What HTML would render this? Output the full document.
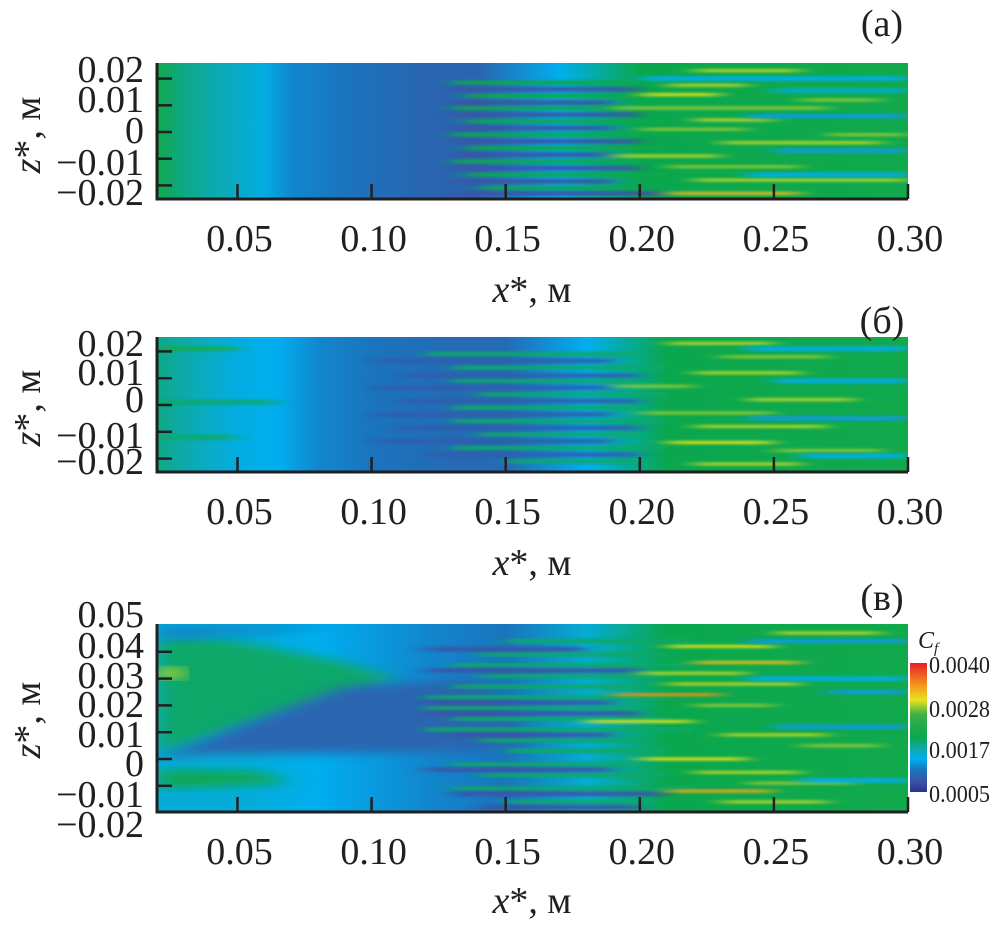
<!DOCTYPE html>
<html><head><meta charset="utf-8"><style>
html,body{margin:0;padding:0;background:#fff;width:992px;height:928px;overflow:hidden}
svg text{font-family:"Liberation Serif",serif;fill:#231f20}
</style></head><body>
<svg id="chart" xmlns="http://www.w3.org/2000/svg" width="992" height="928" viewBox="0 0 992 928">
<defs>
<filter id="blur" x="-20%" y="-300%" width="140%" height="700%"><feGaussianBlur stdDeviation="10 1.3"/></filter>
<filter id="blur2" x="-20%" y="-20%" width="140%" height="140%"><feGaussianBlur stdDeviation="12 5"/></filter>
</defs>
</svg>
<script>
// ---------- data ----------
const xTicks = [0.05, 0.10, 0.15, 0.20, 0.25, 0.30];
const xTickLabels = ["0.05", "0.10", "0.15", "0.20", "0.25", "0.30"];
const abTicks = [0.02, 0.01, 0, -0.01, -0.02];
const abTickLabels = ["0.02", "0.01", "0", "\u22120.01", "\u22120.02"];
const cTicks = [0.04, 0.03, 0.02, 0.01, 0, -0.01];
const cTickLabels = ["0.05", "0.04", "0.03", "0.02", "0.01", "0", "\u22120.01", "\u22120.02"];
const cbTickValues = [0.0040, 0.0028, 0.0017, 0.0005];
const cbTickLabels = ["0.0040", "0.0028", "0.0017", "0.0005"];
const cmapV = [0.0005, 0.0008, 0.0011, 0.0014, 0.0017, 0.0020, 0.0026, 0.0030, 0.0034, 0.0040];
const cmapC = ["#2e3192", "#3a55a5", "#1a74bd", "#00aeef", "#10a9a0", "#0aa74e", "#3cb04a", "#e8e41c", "#f7941d", "#e41e26"];

// panel (a)
const aBgX = [0.02, 0.03, 0.045, 0.06, 0.07, 0.09, 0.12, 0.14, 0.17, 0.20, 0.30];
const aBgV = [0.0021, 0.0018, 0.0016, 0.00145, 0.0012, 0.0011, 0.00095, 0.00095, 0.0014, 0.002, 0.0021];
const aStrZ  = [0.0185,0.0135,0.009,0.004,-0.001,-0.006,-0.011,-0.016,-0.021, 0.016,0.011,0.0065,0.0015,-0.0035,-0.0085,-0.0135,-0.0185,-0.023, 0.023,0.0175,0.014,0.009,0.0045,0.001,-0.004,-0.009,-0.013,-0.018,-0.023,0.012,-0.001, 0.02,0.006,-0.007,-0.016,0.0155];
const aStrX0 = [0.13,0.135,0.13,0.135,0.13,0.135,0.13,0.135,0.14, 0.13,0.13,0.13,0.13,0.13,0.13,0.13,0.13,0.13, 0.22,0.21,0.20,0.19,0.22,0.20,0.23,0.19,0.21,0.22,0.21,0.26,0.27, 0.20,0.24,0.25,0.24,0.25];
const aStrX1 = [0.20,0.21,0.20,0.21,0.20,0.21,0.20,0.21,0.20, 0.20,0.19,0.20,0.19,0.20,0.19,0.20,0.19,0.21, 0.26,0.24,0.23,0.27,0.25,0.24,0.29,0.23,0.26,0.30,0.26,0.29,0.30, 0.30,0.30,0.30,0.30,0.30];
const aStrV  = [0.002,0.002,0.002,0.002,0.002,0.002,0.002,0.002,0.002, 0.0008,0.0008,0.0008,0.0008,0.0008,0.0008,0.0008,0.0008,0.0008, 0.0029,0.0029,0.003,0.0028,0.0029,0.0028,0.0029,0.0029,0.0028,0.0029,0.0032,0.0028,0.0028, 0.0014,0.0013,0.0013,0.0014,0.0015];

// panel (б)
const bBgX = [0.02, 0.035, 0.05, 0.065, 0.08, 0.10, 0.13, 0.15, 0.18, 0.21, 0.30];
const bBgV = [0.0018, 0.0016, 0.00145, 0.0014, 0.0012, 0.0011, 0.001, 0.001, 0.0014, 0.002, 0.0021];
const bStrZ  = [0.021,-0.012,0.001, 0.019,0.014,0.009,0.004,-0.001,-0.006,-0.011,-0.016,-0.021, 0.0165,0.011,0.0065,0.0015,-0.0035,-0.0085,-0.0135,-0.0185, 0.023,0.018,0.012,0.007,0.002,-0.003,-0.008,-0.014,-0.017,-0.022, 0.021,0.009,-0.005,-0.019];
const bStrX0 = [0.02,0.02,0.02, 0.12,0.13,0.13,0.14,0.13,0.13,0.14,0.13,0.15, 0.10,0.11,0.10,0.11,0.10,0.11,0.10,0.12, 0.21,0.23,0.22,0.19,0.24,0.20,0.22,0.21,0.25,0.22, 0.24,0.25,0.24,0.26];
const bStrX1 = [0.05,0.05,0.065, 0.20,0.21,0.20,0.21,0.20,0.21,0.20,0.21,0.20, 0.19,0.20,0.19,0.20,0.19,0.20,0.19,0.20, 0.25,0.27,0.26,0.22,0.28,0.25,0.27,0.25,0.29,0.26, 0.30,0.30,0.30,0.30];
const bStrV  = [0.0021,0.0019,0.0019, 0.0019,0.0019,0.0019,0.0019,0.0019,0.0019,0.0019,0.0019,0.0019, 0.0009,0.0009,0.0009,0.0009,0.0009,0.0009,0.0009,0.0009, 0.0029,0.0028,0.0029,0.0028,0.0029,0.0028,0.0029,0.003,0.0028,0.0029, 0.0014,0.0014,0.0013,0.0014];

// panel (в)
const cBgX = [0.02, 0.05, 0.08, 0.12, 0.15, 0.18, 0.21, 0.30];
const cBgV = [0.0015, 0.0015, 0.0014, 0.0012, 0.0011, 0.0015, 0.002, 0.0021];
const cPolyX = [[0.02,0.035,0.06,0.09,0.11,0.08,0.05,0.02],[0.02,0.05,0.09,0.14,0.16,0.14,0.08,0.04],[0.02,0.06,0.07,0.02],[0.02,0.03,0.03,0.02],[0.02,0.06,0.09,0.06,0.02]];
const cPolyZ = [[0.045,0.046,0.042,0.036,0.03,0.02,0.012,0.002],[0.0,0.012,0.027,0.03,0.006,0.003,0.002,0.002],[-0.004,-0.005,-0.009,-0.011],[0.034,0.034,0.03,0.03],[0.05,0.05,0.05,0.047,0.044]];
const cPolyV = [0.0019, 0.00095, 0.002, 0.0029, 0.0012];
const cStrZ  = [0.044,0.039,0.035,0.031,0.027,0.023,0.019,0.015,0.011,0.007,0.003,-0.002,-0.006,-0.011,-0.016, 0.041,0.033,0.021,0.017,0.009,-0.004,-0.013,-0.018, 0.047,0.042,0.036,0.032,0.028,0.024,0.02,0.014,0.009,0.005,0.0,-0.005,-0.009,-0.012,-0.016, 0.044,0.03,0.012,-0.008,0.025];
const cStrX0 = [0.15,0.14,0.13,0.14,0.13,0.12,0.12,0.13,0.12,0.14,0.15,0.13,0.14,0.13,0.15, 0.12,0.12,0.12,0.12,0.13,0.12,0.13,0.14, 0.25,0.21,0.22,0.20,0.21,0.19,0.22,0.18,0.23,0.26,0.20,0.22,0.24,0.21,0.23, 0.24,0.24,0.25,0.26,0.27];
const cStrX1 = [0.22,0.21,0.22,0.21,0.20,0.21,0.20,0.21,0.22,0.20,0.21,0.20,0.21,0.22,0.20, 0.18,0.2,0.19,0.2,0.19,0.19,0.21,0.2, 0.29,0.25,0.26,0.24,0.26,0.23,0.25,0.22,0.27,0.29,0.24,0.26,0.28,0.25,0.27, 0.30,0.30,0.30,0.30,0.30];
const cStrV  = [0.0019,0.0019,0.0019,0.0019,0.0019,0.0019,0.0019,0.0019,0.0019,0.0019,0.0019,0.0019,0.0019,0.0019,0.0019, 0.0008,0.0008,0.0008,0.0008,0.0008,0.0008,0.0008,0.0008, 0.0029,0.003,0.0032,0.0029,0.0029,0.0034,0.0028,0.003,0.0029,0.0028,0.003,0.0029,0.0028,0.0033,0.0029, 0.0013,0.0014,0.0013,0.0014,0.0013];

// ---------- drawing ----------
const svg = document.getElementById('chart');
const NS = 'http://www.w3.org/2000/svg';
function mk(tag, attrs, parent) {
  const e = document.createElementNS(NS, tag);
  for (const k in attrs) e.setAttribute(k, attrs[k]);
  (parent || svg).appendChild(e);
  return e;
}
function hex(c){return [parseInt(c.slice(1,3),16),parseInt(c.slice(3,5),16),parseInt(c.slice(5,7),16)];}
function cmap(v){
  if (v <= cmapV[0]) return cmapC[0];
  for (let i=1;i<cmapV.length;i++){
    if (v <= cmapV[i]){
      const t=(v-cmapV[i-1])/(cmapV[i]-cmapV[i-1]);
      const a=hex(cmapC[i-1]), b=hex(cmapC[i]);
      return 'rgb('+a.map((x,j)=>Math.round(x+(b[j]-x)*t)).join(',')+')';
    }
  }
  return cmapC[cmapC.length-1];
}
const defs = svg.querySelector('defs');

function panel(o){
  const g = mk('g', {});
  
  
  const X = x => o.x0 + (x - 0.02) / (0.30 - 0.02) * (o.x1 - o.x0);
  const Z = z => o.zeroY - z * o.pxPerUnit;
  const clip = mk('clipPath', {id: 'clip-' + o.id}, defs);
  mk('rect', {x:o.x0, y:o.top, width:o.x1-o.x0, height:o.bottom-o.top}, clip);
  const lg = mk('linearGradient', {id:'bg-'+o.id, x1:0, x2:1, y1:0, y2:0}, defs);
  o.bgX.forEach((x,i)=> mk('stop', {offset:(x-0.02)/0.28, 'stop-color':cmap(o.bgV[i])}, lg));
  const field = mk('g', {'clip-path':'url(#clip-'+o.id+')'}, g);
  
  
  mk('rect', {x:o.x0, y:o.top, width:o.x1-o.x0, height:o.bottom-o.top, fill:'url(#bg-'+o.id+')'}, field);
  if (o.polyX){
    o.polyX.forEach((px,i)=>{
      const pts = px.map((x,j)=> X(x)+','+Z(o.polyZ[i][j])).join(' ');
      const p = mk('polygon', {points:pts, fill:cmap(o.polyV[i]), filter:'url(#blur2)'}, field);
      
      
    });
  }
  o.sZ.forEach((z,i)=>{
    const h = (o.sV[i] > 0.0025 ? 0.0012 : 0.0018) * o.pxPerUnit;
    const r = mk('rect', {x:X(o.sX0[i]), y:Z(z)-h/2, width:X(o.sX1[i])-X(o.sX0[i]), height:h, rx:h/2, fill:cmap(o.sV[i]), filter:'url(#blur)', opacity:0.9}, field);
    
    
  });
  const ax = mk('g', {stroke:'#231f20', 'stroke-width':3, fill:'none'}, g);
  mk('polyline', {points:`${o.x0},${o.top} ${o.x0},${o.bottom} ${o.x1},${o.bottom}`}, ax);
  xTicks.forEach((t,i)=>{
    const l = mk('line', {x1:X(t), x2:X(t), y1:o.bottom, y2:o.bottom-15, 'stroke-width':2.5}, ax);
    
    
    const tx = mk('text', {x:X(t)+2, y:o.bottom+52, 'text-anchor':'middle', 'font-size':38}, g);
    tx.textContent = xTickLabels[i];
    
    
  });
  o.zTicks.forEach(t=>{
    const l = mk('line', {x1:o.x0, x2:o.x0+15, y1:Z(t), y2:Z(t), 'stroke-width':2.5}, ax);
    
    
  });
  o.zLabels.forEach((s,i)=>{
    const tx = mk('text', {x:144, y:o.zLabelY[i], 'text-anchor':'end', 'font-size':38}, g);
    tx.textContent = s;
    
    
  });
  const yt = mk('text', {transform:`translate(40,${o.ytitleY}) rotate(-90)`, 'text-anchor':'middle', 'font-size':38}, g);
  yt.innerHTML = '<tspan font-style="italic">z</tspan>*, м';
  
  
  const xt = mk('text', {x:532, y:o.xtitleY, 'text-anchor':'middle', 'font-size':38}, g);
  xt.innerHTML = '<tspan font-style="italic">x</tspan>*, м';
  
  
  const pl = mk('text', {x:882, y:o.labelY, 'text-anchor':'middle', 'font-size':38}, g);
  pl.textContent = o.label;
  
  
}

panel({id:'a', name:'panel-a', label:'(a)', labelY:36, x0:157, x1:908, top:63, bottom:199, zeroY:132, pxPerUnit:2670,
  bgX:aBgX, bgV:aBgV, sZ:aStrZ, sX0:aStrX0, sX1:aStrX1, sV:aStrV, zTicks:abTicks, zLabels:abTickLabels,
  zLabelY:[82,112,143,175,205], ytitleY:135, xtitleY:302});
panel({id:'b', name:'panel-b', label:'(б)', labelY:333, x0:157, x1:908, top:337, bottom:472, zeroY:405, pxPerUnit:2680,
  bgX:bBgX, bgV:bBgV, sZ:bStrZ, sX0:bStrX0, sX1:bStrX1, sV:bStrV, zTicks:abTicks, zLabels:abTickLabels,
  zLabelY:[356,385,412,448,474], ytitleY:408, xtitleY:575});
panel({id:'c', name:'panel-c', label:'(в)', labelY:610, x0:157, x1:908, top:624, bottom:812, zeroY:759, pxPerUnit:2680,
  bgX:cBgX, bgV:cBgV, polyX:cPolyX, polyZ:cPolyZ, polyV:cPolyV, sZ:cStrZ, sX0:cStrX0, sX1:cStrX1, sV:cStrV, zTicks:cTicks, zLabels:cTickLabels,
  zLabelY:[627,658,688,717,747,776,807,837], ytitleY:720, xtitleY:913});

// colorbar
const cb = mk('g', {});


const cbg = mk('linearGradient', {id:'cbgrad', x1:0, x2:0, y1:1, y2:0}, defs);
cmapV.forEach((v,i)=> mk('stop', {offset:(v-0.0005)/0.0035, 'stop-color':cmapC[i]}, cbg));
const cbTop = 663, cbBot = 792;
mk('rect', {x:910, y:cbTop, width:17, height:cbBot-cbTop, fill:'url(#cbgrad)'}, cb);
cbTickValues.forEach((v,i)=>{
  const y = cbBot - (v-0.0005)/0.0035*(cbBot-cbTop);
  const t = mk('text', {x:929, y:y+10, 'font-size':24, textLength:61, lengthAdjust:'spacingAndGlyphs'}, cb);
  t.textContent = cbTickLabels[i];
  
  
});
const cft = mk('text', {x:918, y:648, 'font-size':24, 'font-style':'italic'}, cb);
cft.innerHTML = 'C<tspan font-size="15" dy="5">f</tspan>';


</script>
</body></html>
